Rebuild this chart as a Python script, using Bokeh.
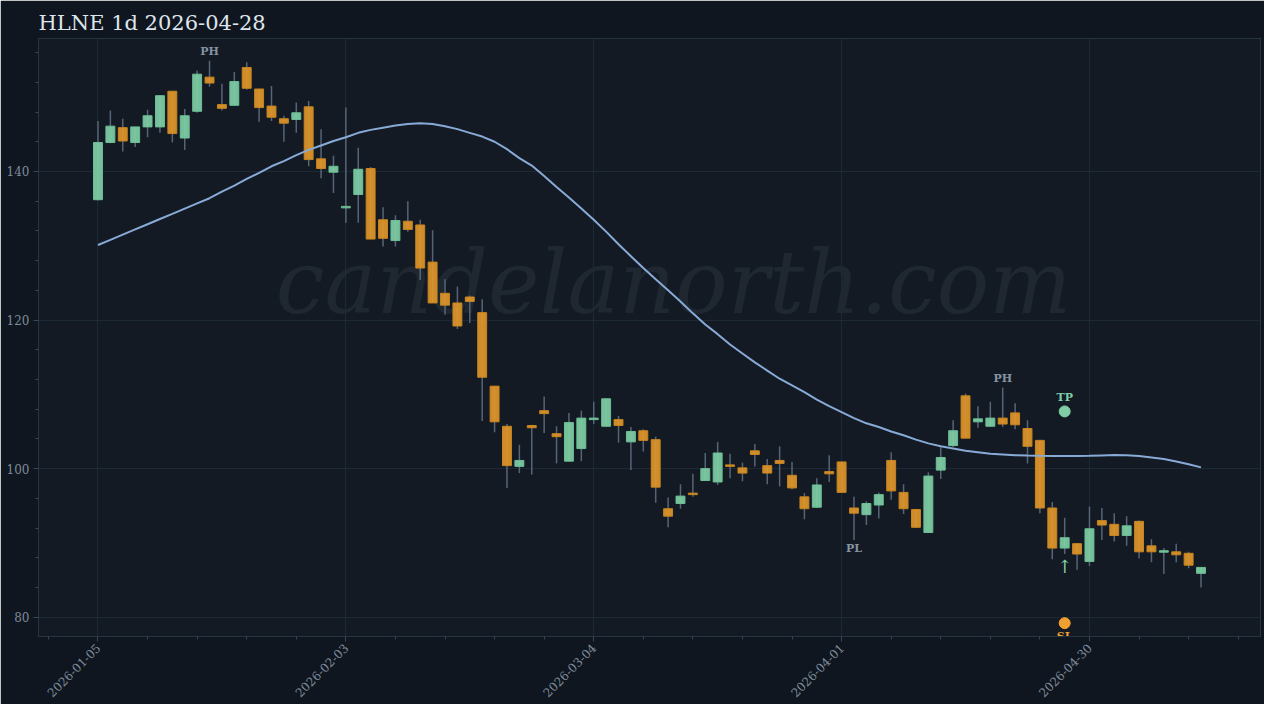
from bokeh.plotting import figure
from bokeh.models import FixedTicker, SingleIntervalTicker, Label, ColumnDataSource, Range1d
from bokeh.embed import file_html
from bokeh.resources import INLINE
from bokeh.core.properties import value
import math

title_text = "HLNE 1d 2026-04-28"
watermark = "candelanorth.com"

opens = [136.2, 143.9, 145.9, 143.9, 146.0, 146.0, 150.8, 144.5, 148.1, 152.7,
         149.0, 148.9, 154.0, 151.1, 148.8, 147.1, 147.0, 148.7, 141.7, 139.9,
         135.1, 136.9, 140.4, 133.5, 130.7, 133.3, 132.8, 127.8, 123.6, 122.3,
         123.1, 121.0, 111.1, 105.7, 100.3, 105.8, 107.8, 104.7, 101.0, 102.7,
         106.6, 105.7, 106.6, 103.6, 105.1, 103.9, 94.6, 95.3, 96.7, 98.4,
         98.2, 100.5, 100.1, 102.4, 100.4, 101.1, 99.1, 96.2, 94.8, 99.6,
         100.9, 94.7, 93.8, 95.1, 101.1, 96.8, 94.5, 91.4, 99.8, 103.1,
         109.8, 106.3, 105.7, 106.8, 107.5, 105.4, 103.8, 94.7, 89.3, 89.9,
         87.5, 93.0, 92.5, 91.0, 92.9, 89.6, 88.75, 88.8, 88.6, 85.9]
highs = [146.8, 148.2, 147.1, 146.0, 148.3, 150.3, 150.8, 148.4, 153.6, 154.9,
         151.8, 153.4, 154.7, 151.1, 151.5, 147.5, 149.3, 149.5, 145.7, 142.1,
         148.6, 143.2, 140.6, 135.2, 134.1, 136.0, 133.5, 132.1, 125.5, 124.5,
         123.3, 122.8, 111.1, 106.0, 103.2, 105.9, 109.7, 105.7, 107.5, 107.8,
         109.0, 109.5, 107.1, 105.6, 105.3, 104.3, 96.1, 97.9, 99.3, 102.1,
         103.6, 102.0, 100.8, 103.3, 101.3, 103.0, 100.9, 96.7, 98.7, 101.8,
         100.9, 96.2, 95.6, 96.8, 102.2, 97.9, 94.5, 99.5, 102.9, 106.5,
         110.1, 108.4, 109.0, 110.9, 108.8, 106.5, 103.9, 95.5, 93.4, 90.0,
         94.9, 94.7, 94.0, 93.6, 93.0, 90.5, 89.3, 89.9, 88.8, 86.7]
lows = [136.1, 143.8, 142.7, 143.3, 144.6, 145.2, 143.9, 142.9, 147.9, 151.4,
        148.2, 148.9, 151.0, 146.7, 146.8, 144.0, 145.2, 140.7, 139.1, 137.1,
        133.1, 133.1, 130.9, 129.9, 129.9, 131.9, 125.4, 122.3, 120.7, 118.8,
        119.6, 106.4, 104.9, 97.4, 99.4, 99.2, 104.8, 100.7, 101.0, 101.0,
        106.0, 105.7, 103.5, 99.8, 102.3, 95.4, 92.1, 94.6, 96.2, 98.4,
        97.8, 98.7, 98.3, 100.3, 97.9, 97.6, 97.2, 93.2, 94.7, 98.2,
        96.8, 90.4, 92.4, 93.3, 95.8, 93.9, 92.0, 91.4, 98.6, 102.9,
        104.1, 105.5, 105.7, 105.6, 105.3, 100.7, 94.0, 87.8, 88.5, 86.4,
        86.9, 90.4, 90.2, 89.6, 87.9, 87.4, 85.8, 87.4, 86.6, 84.0]
closes = [143.9, 146.1, 144.1, 146.0, 147.5, 150.2, 145.1, 147.5, 153.1, 151.9,
          148.5, 152.1, 151.2, 148.6, 147.3, 146.5, 147.9, 141.6, 140.4, 140.7,
          135.3, 140.3, 130.9, 131.0, 133.4, 132.2, 127.0, 122.3, 122.0, 119.2,
          122.5, 112.3, 106.3, 100.4, 101.1, 105.5, 107.4, 104.3, 106.2, 106.8,
          106.8, 109.4, 105.8, 105.0, 103.8, 97.5, 93.6, 96.3, 96.5, 100.0,
          102.1, 100.3, 99.4, 101.9, 99.4, 100.7, 97.4, 94.6, 97.8, 99.3,
          96.8, 94.0, 95.3, 96.5, 97.0, 94.6, 92.1, 99.0, 101.5, 105.1,
          104.1, 106.7, 106.8, 106.0, 105.9, 103.0, 94.7, 89.3, 90.7, 88.5,
          91.9, 92.4, 91.0, 92.3, 88.8, 88.8, 88.95, 88.4, 87.0, 86.7]
ma = [130.1, 130.8, 131.5, 132.2, 132.9, 133.6, 134.3, 135.0, 135.7, 136.4,
      137.3, 138.1, 139.0, 139.8, 140.7, 141.4, 142.2, 142.9, 143.5, 144.1,
      144.6, 145.2, 145.6, 145.9, 146.2, 146.4, 146.5, 146.4, 146.1, 145.7,
      145.2, 144.7, 144.0, 143.0, 141.8, 140.8, 139.4, 137.9, 136.5, 135.0,
      133.5, 131.9, 130.2, 128.6, 127.0, 125.5, 124.0, 122.5, 120.9, 119.4,
      118.1, 116.7, 115.5, 114.3, 113.2, 112.1, 111.2, 110.3, 109.3, 108.4,
      107.6, 106.8, 106.1, 105.6, 105.0, 104.5, 103.9, 103.4, 103.0, 102.7,
      102.4, 102.2, 102.0, 101.9, 101.8, 101.75, 101.72, 101.7, 101.7, 101.7,
      101.72, 101.78, 101.84, 101.8, 101.7, 101.5, 101.3, 100.96, 100.6, 100.17]

tick_idx = [0, 20, 40, 60, 80]
tick_labels = ["2026-01-05", "2026-02-03", "2026-03-04", "2026-04-01", "2026-04-30"]

ph_idx = [9, 73]
pl_idx = [61]
entry_idx = 78
tp_price = 107.7
sl_price = 79.2

UP = "#7fcea6"
UP_LINE = "#6cbf95"
DOWN = "#e0962a"
DOWN_LINE = "#c8851f"
SL_COLOR = "#f0a030"
WICK = "#5d6d80"
SERIF = "DejaVu Serif"

n = len(opens)
xs = list(range(n))
is_up = [c >= o for o, c in zip(opens, closes)]
src = ColumnDataSource(dict(
    x=xs,
    top=[max(o, c) for o, c in zip(opens, closes)],
    bottom=[min(o, c) for o, c in zip(opens, closes)],
    high=highs, low=lows,
    fill=[UP if u else DOWN for u in is_up],
    line=[UP_LINE if u else DOWN_LINE for u in is_up],
))

p = figure(width=1264, height=704, output_backend="svg", toolbar_location=None,
           x_range=Range1d(-4.8, 93.8), y_range=Range1d(77.4, 157.9),
           min_border_left=38, min_border_right=4, min_border_top=38, min_border_bottom=10)

p.background_fill_color = "#131a24"
p.border_fill_color = "#10161f"
p.outline_line_color = "#263442"
p.outline_line_width = 1

p.title.text = title_text
p.title.text_font = SERIF
p.title.text_font_size = "21px"
p.title.text_font_style = "normal"
p.title.text_color = "#dfe5ec"
p.title.align = "left"
p.title.offset = 0
p.title.standoff = 8

# watermark
wm = Label(x=46.45, y=125.0, text=watermark, text_align="center", text_baseline="alphabetic",
           text_font=SERIF, text_font_style="italic", text_font_size="87px",
           text_color="#1f2831", level="underlay")
p.add_layout(wm)

# axes
p.xaxis.ticker = FixedTicker(ticks=tick_idx,
                             minor_ticks=[t for t in range(-4, 96, 4) if t not in tick_idx])
p.xaxis.major_label_overrides = {t: l for t, l in zip(tick_idx, tick_labels)}
p.xaxis.major_label_orientation = math.pi / 4
p.yaxis.ticker = SingleIntervalTicker(interval=20, num_minor_ticks=5)

for ax in (p.xaxis, p.yaxis):
    ax.axis_line_color = "#263442"
    ax.major_tick_line_color = "#33485a"
    ax.minor_tick_line_color = "#33485a"
    ax.major_tick_out = 5
    ax.major_tick_in = 0
    ax.minor_tick_out = 3
    ax.minor_tick_in = 0
    ax.major_label_text_font = SERIF
    ax.major_label_text_font_size = "12px"
    ax.major_label_text_color = "#7d8b9b"
    ax.major_label_standoff = 4

p.xgrid.grid_line_color = "#1d2a35"
p.ygrid.grid_line_color = "#1d2a35"

# candles
p.segment(x0="x", y0="low", x1="x", y1="high", source=src, line_color=WICK, line_width=1.5, line_alpha=0.9)
p.vbar(x="x", top="top", bottom="bottom", width=0.72, source=src,
       fill_color="fill", line_color="line", fill_alpha=0.92, line_width=1)

# moving average
p.line(xs, ma, line_color="#88aad6", line_width=2)

# pivot labels
p.text(x=ph_idx, y=[highs[i] for i in ph_idx], text=["PH"] * len(ph_idx),
       text_align="center", text_baseline="middle", y_offset=-9,
       text_font=value(SERIF), text_font_style="bold", text_font_size="11px", text_color="#8593a3")
p.text(x=pl_idx, y=[lows[i] for i in pl_idx], text=["PL"] * len(pl_idx),
       text_align="center", text_baseline="middle", y_offset=9,
       text_font=value(SERIF), text_font_style="bold", text_font_size="11px", text_color="#8593a3")

# entry signal
p.text(x=[entry_idx], y=[lows[entry_idx]], text=["↑"], text_align="center", text_baseline="middle",
       y_offset=12, text_font=value(SERIF), text_font_size="18px", text_color=UP)
p.scatter(x=[entry_idx], y=[tp_price], size=11, fill_color=UP, line_color=UP)
p.text(x=[entry_idx], y=[tp_price], text=["TP"], text_align="center", text_baseline="middle",
       y_offset=-14, text_font=value(SERIF), text_font_style="bold", text_font_size="11px", text_color=UP)
p.scatter(x=[entry_idx], y=[sl_price], size=11, fill_color=SL_COLOR, line_color=SL_COLOR)
p.text(x=[entry_idx], y=[sl_price], text=["SL"], text_align="center", text_baseline="middle",
       y_offset=13, text_font=value(SERIF), text_font_style="bold", text_font_size="11px", text_color=SL_COLOR)

open("out.html", "w").write(file_html(p, INLINE))
